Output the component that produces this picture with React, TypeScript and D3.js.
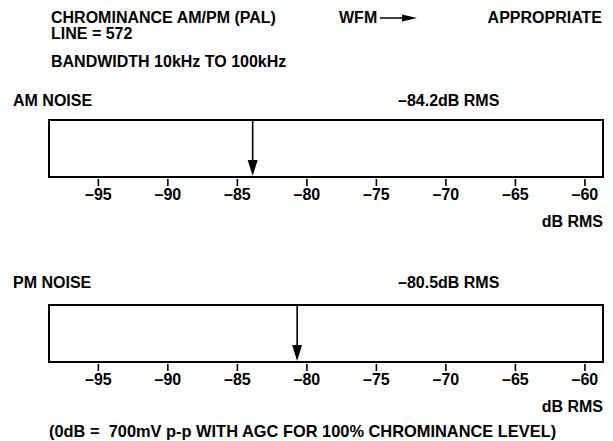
import React from "react";
import * as d3 from "d3";

const panelTitles = ["AM NOISE", "PM NOISE"];
const panelReadings = ["–84.2dB RMS", "–80.5dB RMS"];
const arrowValues = [-83.9, -80.7];
const tickValues = [-95, -90, -85, -80, -75, -70, -65, -60];
const axisUnit = "dB RMS";
const headerLines = ["CHROMINANCE AM/PM (PAL)", "LINE = 572"];
const bandwidthText = "BANDWIDTH 10kHz TO 100kHz";
const wfmText = "WFM";
const wfmValue = "APPROPRIATE";
const footnote = "(0dB =  700mV p-p WITH AGC FOR 100% CHROMINANCE LEVEL)";

const W = 613;
const H = 441;
const FONT = "'Liberation Sans', Arial, Helvetica, sans-serif";
const FS = 16;

const x = d3.scaleLinear().domain([-98.55, -58.7]).range([49, 603]);

const panelTops = [120, 305];
const boxH = 57;
const titleOffsets = [14, 17];

const fmt = (v: number) => (v < 0 ? "–" + Math.abs(v) : String(v));

function Panel({ i }: { i: number }) {
  const top = panelTops[i];
  const bottom = top + boxH;
  const ax = x(arrowValues[i]);
  return (
    <g>
      <text x={13} y={top - titleOffsets[i]} fontSize={FS} fontWeight="bold">
        {panelTitles[i]}
      </text>
      <text x={398} y={top - titleOffsets[i]} fontSize={FS} fontWeight="bold">
        {panelReadings[i]}
      </text>
      <rect
        x={x.range()[0]}
        y={top}
        width={x.range()[1] - x.range()[0]}
        height={boxH}
        fill="none"
        stroke="#000"
        strokeWidth={2}
      />
      <line x1={ax} x2={ax} y1={top} y2={bottom - 12} stroke="#000" strokeWidth={1.6} />
      <path
        d={`M${ax - 5},${bottom - 17}L${ax + 5},${bottom - 17}L${ax},${bottom - 1}Z`}
        fill="#000"
      />
      {tickValues.map((t) => (
        <g key={t}>
          <line x1={x(t)} x2={x(t)} y1={bottom + 2} y2={bottom + 9} stroke="#000" strokeWidth={1.6} />
          <text x={x(t)} y={bottom + 23} fontSize={FS} fontWeight="bold" textAnchor="middle">
            {fmt(t)}
          </text>
        </g>
      ))}
      <text x={603} y={bottom + 50} fontSize={FS} fontWeight="bold" textAnchor="end">
        {axisUnit}
      </text>
    </g>
  );
}

export default function App() {
  return (
    <svg
      width={W}
      height={H}
      style={{ position: "absolute", left: 0, top: 0, background: "#fff" }}
      fontFamily={FONT}
    >
      <rect x={0} y={0} width={W} height={H} fill="#fff" />
      {headerLines.map((l, k) => (
        <text key={k} x={51} y={23 + k * 16} fontSize={FS} fontWeight="bold">
          {l}
        </text>
      ))}
      <text x={51} y={67} fontSize={FS} fontWeight="bold">
        {bandwidthText}
      </text>
      <text x={339} y={23} fontSize={FS} fontWeight="bold">
        {wfmText}
      </text>
      <line x1={380} x2={404} y1={18} y2={18} stroke="#000" strokeWidth={1.5} />
      <path d="M402,14.5L417,18L402,21.5Z" fill="#000" />
      <text x={602} y={23} fontSize={FS} fontWeight="bold" textAnchor="end">
        {wfmValue}
      </text>
      <Panel i={0} />
      <Panel i={1} />
      <text x={49} y={437} fontSize={16.4} fontWeight="bold" style={{ whiteSpace: "pre" }}>
        {footnote}
      </text>
    </svg>
  );
}
